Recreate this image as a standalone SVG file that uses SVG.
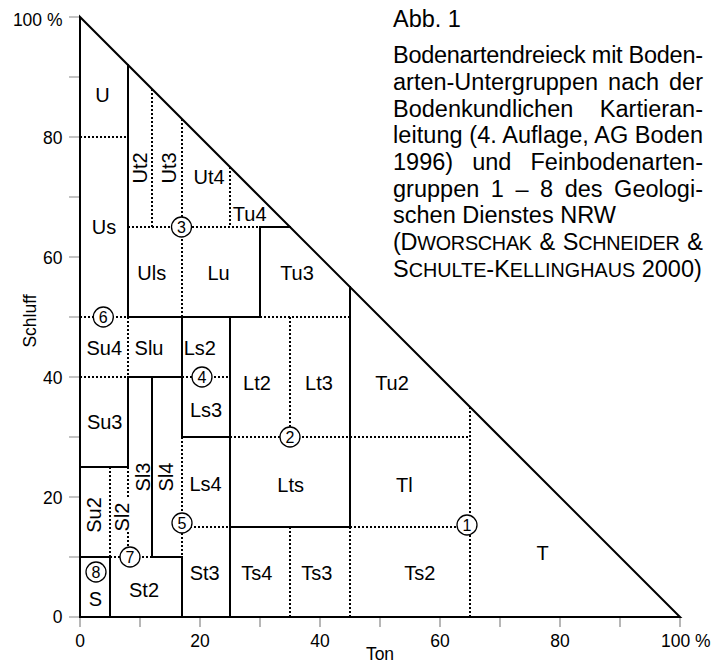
<svg xmlns="http://www.w3.org/2000/svg" width="720" height="664" viewBox="0 0 720 664">
<style>
.s{stroke:#000;stroke-width:2;fill:none;stroke-linecap:square;stroke-linejoin:miter}
.d{stroke:#000;stroke-width:2;fill:none;stroke-dasharray:2 2}
.t{stroke:#888;stroke-width:1.2;fill:none}
.c{fill:#fff;stroke:#000;stroke-width:1.3}
text{font-family:"Liberation Sans",Arial,Helvetica,sans-serif;fill:#000}
.l{font-size:20px;text-anchor:middle}
.n{font-size:16px;text-anchor:middle}
.a{font-size:17.5px}
.ae{font-size:17.5px;text-anchor:end}
.am{font-size:17.5px;text-anchor:middle}
.cap{font-size:23.5px}
.sc{font-size:19.8px}
</style>
<rect width="720" height="664" fill="#fff"/>
<g id="axes">
<path class="t" d="M69,17H80M69,77H80M69,137H80M69,197H80M69,257H80M69,317H80M69,377H80M69,437H80M69,497H80M69,557H80M69,617H80"/>
<path class="t" d="M80,617V627M140,617V627M200,617V627M260,617V627M320,617V627M380,617V627M440,617V627M500,617V627M560,617V627M620,617V627M680,617V627"/>
<text class="ae" x="62.5" y="26">100 %</text>
<text class="ae" x="62.5" y="143.5">80</text>
<text class="ae" x="62.5" y="263.5">60</text>
<text class="ae" x="62.5" y="383.5">40</text>
<text class="ae" x="62.5" y="503.5">20</text>
<text class="ae" x="62.5" y="623">0</text>
<text class="am" x="80" y="647">0</text>
<text class="am" x="200" y="647">20</text>
<text class="am" x="320" y="647">40</text>
<text class="am" x="440" y="647">60</text>
<text class="am" x="560" y="647">80</text>
<text class="a" x="661" y="647">100 %</text>
<text class="am" x="380" y="660">Ton</text>
<text class="am" transform="translate(30,321) rotate(-90)" x="0" y="6.3">Schluff</text>
</g>
<g id="connectors">
<path class="d" d="M80,137H128M152,89V227M182,119V227M230,167V227M128,227H260M182,227V317M80,317H128M128,317V377M260,317H350M80,377H128M182,377H230M290,317V437M230,437H470M470,407V617M182,437V557M182,527H230M350,527H470M290,527V617M350,527V617M110,467V557M128,467V497M128,532V557M110,557H152"/>
<path class="s" d="M80,17V617H680Z"/>
<path class="s" d="M128,65V317H260V227H290M350,287V527H230M230,317V617M182,317V437H230M128,377H182M80,467H128V377M152,377V557H182V617M80,557H110V617"/>
</g>
<g id="markers">
<g id="m1"><circle class="c" cx="467" cy="525" r="10"/><text class="n" x="467" y="530.8">1</text></g>
<g id="m2"><circle class="c" cx="290" cy="437" r="10"/><text class="n" x="290" y="442.8">2</text></g>
<g id="m3"><circle class="c" cx="181.5" cy="227" r="10"/><text class="n" x="181.5" y="232.8">3</text></g>
<g id="m4"><circle class="c" cx="202" cy="377" r="10"/><text class="n" x="202" y="382.8">4</text></g>
<g id="m5"><circle class="c" cx="182" cy="523" r="10"/><text class="n" x="182" y="528.8">5</text></g>
<g id="m6"><circle class="c" cx="103.3" cy="317" r="10"/><text class="n" x="103.3" y="322.8">6</text></g>
<g id="m7"><circle class="c" cx="130" cy="557" r="10"/><text class="n" x="130" y="562.8">7</text></g>
<g id="m8"><circle class="c" cx="96" cy="572" r="10"/><text class="n" x="96" y="577.8">8</text></g>
</g>
<g id="labels">
<g id="U"><text class="l" x="102.5" y="101.7">U</text></g>
<g id="Ut2"><text class="l" transform="translate(140,168) rotate(-90)" x="0" y="7.2">Ut2</text></g>
<g id="Ut3"><text class="l" transform="translate(169,168) rotate(-90)" x="0" y="7.2">Ut3</text></g>
<g id="Ut4"><text class="l" x="209" y="183.5">Ut4</text></g>
<g id="Tu4"><text class="l" x="249.7" y="220.7">Tu4</text></g>
<g id="Us"><text class="l" x="104" y="233.5">Us</text></g>
<g id="Uls"><text class="l" x="151.7" y="279.5">Uls</text></g>
<g id="Lu"><text class="l" x="218.5" y="279.7">Lu</text></g>
<g id="Tu3"><text class="l" x="297" y="280.2">Tu3</text></g>
<g id="Su4"><text class="l" x="104.3" y="355.2">Su4</text></g>
<g id="Slu"><text class="l" x="149" y="355.2">Slu</text></g>
<g id="Ls2"><text class="l" x="199.8" y="355.2">Ls2</text></g>
<g id="Ls3"><text class="l" x="206" y="416.9">Ls3</text></g>
<g id="Lt2"><text class="l" x="257" y="389.5">Lt2</text></g>
<g id="Lt3"><text class="l" x="319" y="389.5">Lt3</text></g>
<g id="Tu2"><text class="l" x="392" y="390.2">Tu2</text></g>
<g id="Su3"><text class="l" x="104.7" y="428.5">Su3</text></g>
<g id="Sl3"><text class="l" transform="translate(142.5,477) rotate(-90)" x="0" y="7.2">Sl3</text></g>
<g id="Sl4"><text class="l" transform="translate(166,477) rotate(-90)" x="0" y="7.2">Sl4</text></g>
<g id="Su2"><text class="l" transform="translate(94,515) rotate(-90)" x="0" y="7.2">Su2</text></g>
<g id="Sl2"><text class="l" transform="translate(121.7,517) rotate(-90)" x="0" y="7.2">Sl2</text></g>
<g id="Ls4"><text class="l" x="205.5" y="490.9">Ls4</text></g>
<g id="Lts"><text class="l" x="290.7" y="491.9">Lts</text></g>
<g id="Tl"><text class="l" x="404.3" y="491.9">Tl</text></g>
<g id="S"><text class="l" x="95.5" y="606.2">S</text></g>
<g id="St2"><text class="l" x="144" y="596.9">St2</text></g>
<g id="St3"><text class="l" x="204.7" y="580.2">St3</text></g>
<g id="Ts4"><text class="l" x="256.7" y="579.5">Ts4</text></g>
<g id="Ts3"><text class="l" x="316.8" y="579.5">Ts3</text></g>
<g id="Ts2"><text class="l" x="419.7" y="579.5">Ts2</text></g>
<g id="T"><text class="l" x="542.5" y="560.2">T</text></g>
</g>
<g id="caption" class="cap">
<text class="cap" x="393" y="26.7">Abb. 1</text>
<text class="cap" x="393" y="63.3" textLength="310" lengthAdjust="spacing">Bodenartendreieck mit Boden-</text>
<text class="cap" x="393" y="90" word-spacing="3.5" textLength="310" lengthAdjust="spacing">arten-Untergruppen nach der</text>
<text class="cap" x="393" y="116.7" word-spacing="20" textLength="310" lengthAdjust="spacing">Bodenkundlichen Kartieran-</text>
<text class="cap" x="393" y="143.3" textLength="310" lengthAdjust="spacing">leitung (4. Auflage, AG Boden</text>
<text class="cap" x="393" y="170" word-spacing="12.5" textLength="310" lengthAdjust="spacing">1996) und Feinbodenarten-</text>
<text class="cap" x="393" y="196.7" word-spacing="5" textLength="310" lengthAdjust="spacing">gruppen 1 – 8 des Geologi-</text>
<text class="cap" x="393" y="223.3">schen Dienstes NRW</text>
<text class="cap" x="393" y="250" word-spacing="1.5" textLength="310" lengthAdjust="spacing">(D<tspan class="sc">WORSCHAK</tspan> &amp; S<tspan class="sc">CHNEIDER</tspan> &amp;</text>
<text class="cap" x="393" y="276.7">S<tspan class="sc">CHULTE</tspan>-K<tspan class="sc">ELLINGHAUS</tspan> 2000)</text>
</g>
</svg>
